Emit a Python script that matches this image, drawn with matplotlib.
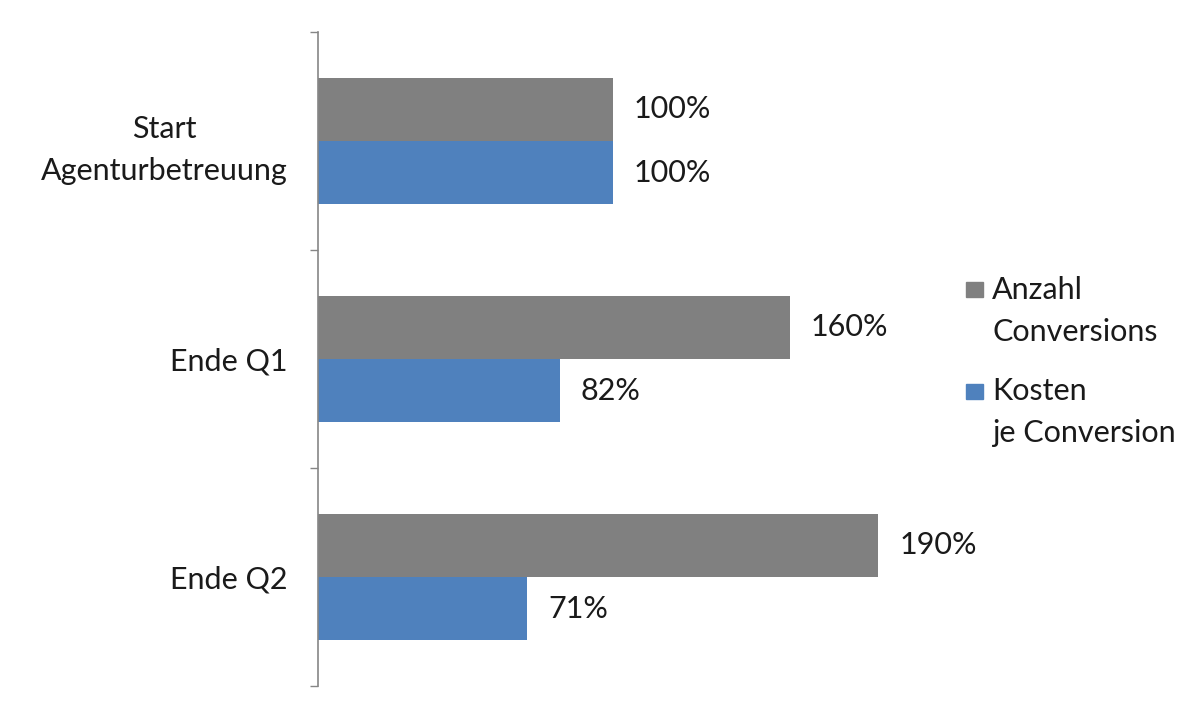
import matplotlib.pyplot as plt
import matplotlib.patches as mpatches
import numpy as np

categories = ['Start\nAgenturbetreuung', 'Ende Q1', 'Ende Q2']
anzahl_conversions = [100, 160, 190]
kosten_je_conversion = [100, 82, 71]
series_labels = ['Anzahl\nConversions', 'Kosten\nje Conversion']

grey = '#808080'
blue = '#4f81bd'
text_col = '#1a1a1a'

plt.rcParams['font.family'] = ['Lato', 'DejaVu Sans']
plt.rcParams['font.size'] = 22

fig = plt.figure(figsize=(12, 7.15), dpi=100)
ax = fig.add_axes([318 / 1200, 1 - 686 / 715, 590 / 1200, 654 / 715])

y = np.arange(len(categories))
h = 0.289
bars1 = ax.barh(y - h / 2, anzahl_conversions, h, color=grey)
bars2 = ax.barh(y + h / 2, kosten_je_conversion, h, color=blue)

for bars in (bars1, bars2):
    for b in bars:
        ax.annotate('%d%%' % b.get_width(), (b.get_width(), b.get_y() + b.get_height() / 2),
                    xytext=(15, 0), textcoords='offset points', va='center', ha='left',
                    color=text_col)

ax.set_xlim(0, 200)
ax.set_ylim(len(categories) - 0.5, -0.5)
ax.set_yticks(y)
ax.set_yticklabels(categories, multialignment='center', color=text_col, linespacing=1.6)
ax.set_yticks(np.arange(len(categories) + 1) - 0.5, minor=True)
ax.tick_params(axis='y', which='major', length=0, pad=22)
ax.tick_params(axis='y', which='minor', length=5.5, color='#868686', width=1)
ax.set_xticks([])
for s in ('top', 'right', 'bottom'):
    ax.spines[s].set_visible(False)
ax.spines['left'].set_color('#868686')
ax.spines['left'].set_linewidth(1.2)

# legend, drawn by hand so the square sits at the first line like in Excel
legend_items = [(series_labels[0], grey, 289, 311), (series_labels[1], blue, 391, 412)]
for label, col, ysq, ytxt in legend_items:
    fig.patches.append(mpatches.Rectangle((966 / 1200, 1 - (ysq + 7.5) / 715), 17 / 1200, 15 / 715,
                                          transform=fig.transFigure, color=col))
    fig.text(992 / 1200, 1 - ytxt / 715, label, va='center', ha='left',
             color=text_col, linespacing=1.6)

plt.savefig('out.png', dpi=100)
